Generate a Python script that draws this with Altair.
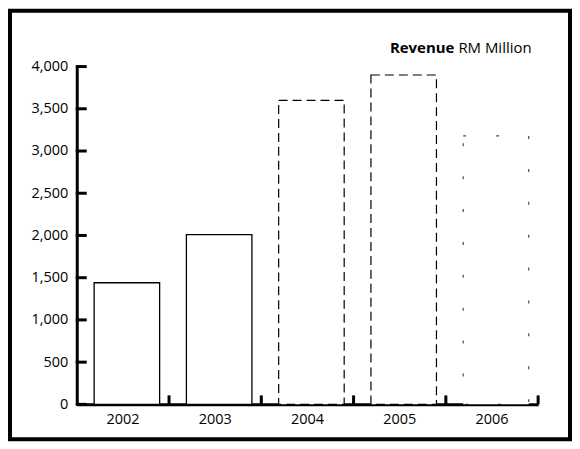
import altair as alt
import pandas as pd

years = ["2002", "2003", "2004", "2005", "2006"]
revenue = [1440, 2010, 3600, 3900, 3180]
y_tick_values = [0, 500, 1000, 1500, 2000, 2500, 3000, 3500, 4000]

df = pd.DataFrame({"year": years, "revenue": revenue})
ticks_df = pd.DataFrame({"revenue": y_tick_values})
one = pd.DataFrame({"k": [0]})

FONT = "Open Sans"
W, H = 463, 339

x_scale = alt.Scale(domain=years, paddingInner=0, paddingOuter=0)
y_scale = alt.Scale(domain=[0, 4000], nice=False)

x_axis = alt.Axis(title=None, ticks=False, domain=True, domainWidth=3,
                  domainColor="black", labelFont=FONT, labelFontSize=14.5,
                  labelColor="black", labelPadding=8, labelAngle=0, grid=False)
y_axis = alt.Axis(title=None, values=y_tick_values, format=",d", ticks=False,
                  domainWidth=3, domainColor="black", labelFont=FONT,
                  labelFontSize=14.5, labelColor="black", labelPadding=9,
                  grid=False)

x_enc = alt.X("year:N", scale=x_scale, sort=years, axis=x_axis)
y_enc = alt.Y("revenue:Q", scale=y_scale, axis=y_axis)

base = alt.Chart(df).encode(x=x_enc, y=y_enc)
bar_kw = dict(width=alt.RelativeBandSize(0.71), xOffset=4, fill="white", stroke="black")

solid = base.transform_filter(
    alt.FieldOneOfPredicate(field="year", oneOf=["2002", "2003"])
).mark_bar(strokeWidth=1.3, **bar_kw)
dashed = base.transform_filter(
    alt.FieldOneOfPredicate(field="year", oneOf=["2004", "2005"])
).mark_bar(strokeWidth=1.2, strokeDash=[9, 5], **bar_kw)
faint = base.transform_filter(
    alt.FieldOneOfPredicate(field="year", oneOf=["2006"])
).mark_bar(strokeWidth=1.2, strokeDash=[3, 30], strokeOpacity=0.7, **bar_kw)

y_ticks = alt.Chart(ticks_df).mark_rule(color="black", strokeWidth=3).encode(
    y=alt.Y("revenue:Q", scale=y_scale, axis=y_axis),
    x=alt.value(-1), x2=alt.value(10),
)
x_ticks = alt.Chart(df).mark_rule(color="black", strokeWidth=3).encode(
    x=alt.X("year:N", scale=x_scale, sort=years, bandPosition=1, axis=x_axis),
    y=alt.value(H), y2=alt.value(H - 9),
)

frame = alt.Chart(one).mark_rect(fillOpacity=0, stroke="black", strokeWidth=4).encode(
    x=alt.value(-67), x2=alt.value(495), y=alt.value(-56), y2=alt.value(374)
)

title_bold = alt.Chart(one).mark_text(
    text="Revenue", font=FONT, fontSize=15, fontWeight="bold", align="right",
    baseline="alphabetic", color="black"
).encode(x=alt.value(379), y=alt.value(-14))
title_rest = alt.Chart(one).mark_text(
    text="RM Million", font=FONT, fontSize=15, align="left",
    baseline="alphabetic", color="black"
).encode(x=alt.value(383), y=alt.value(-14))

chart = alt.layer(
    solid, dashed, faint, y_ticks, x_ticks, frame, title_bold, title_rest
).properties(
    width=W, height=H,
    background="white",
    autosize=alt.AutoSizeParams(type="none"),
    padding={"left": 69, "top": 58, "right": 34, "bottom": 37},
).configure_view(strokeWidth=0, strokeOpacity=0)

chart.save("out.html", embed_options={"renderer": "svg", "actions": False})
